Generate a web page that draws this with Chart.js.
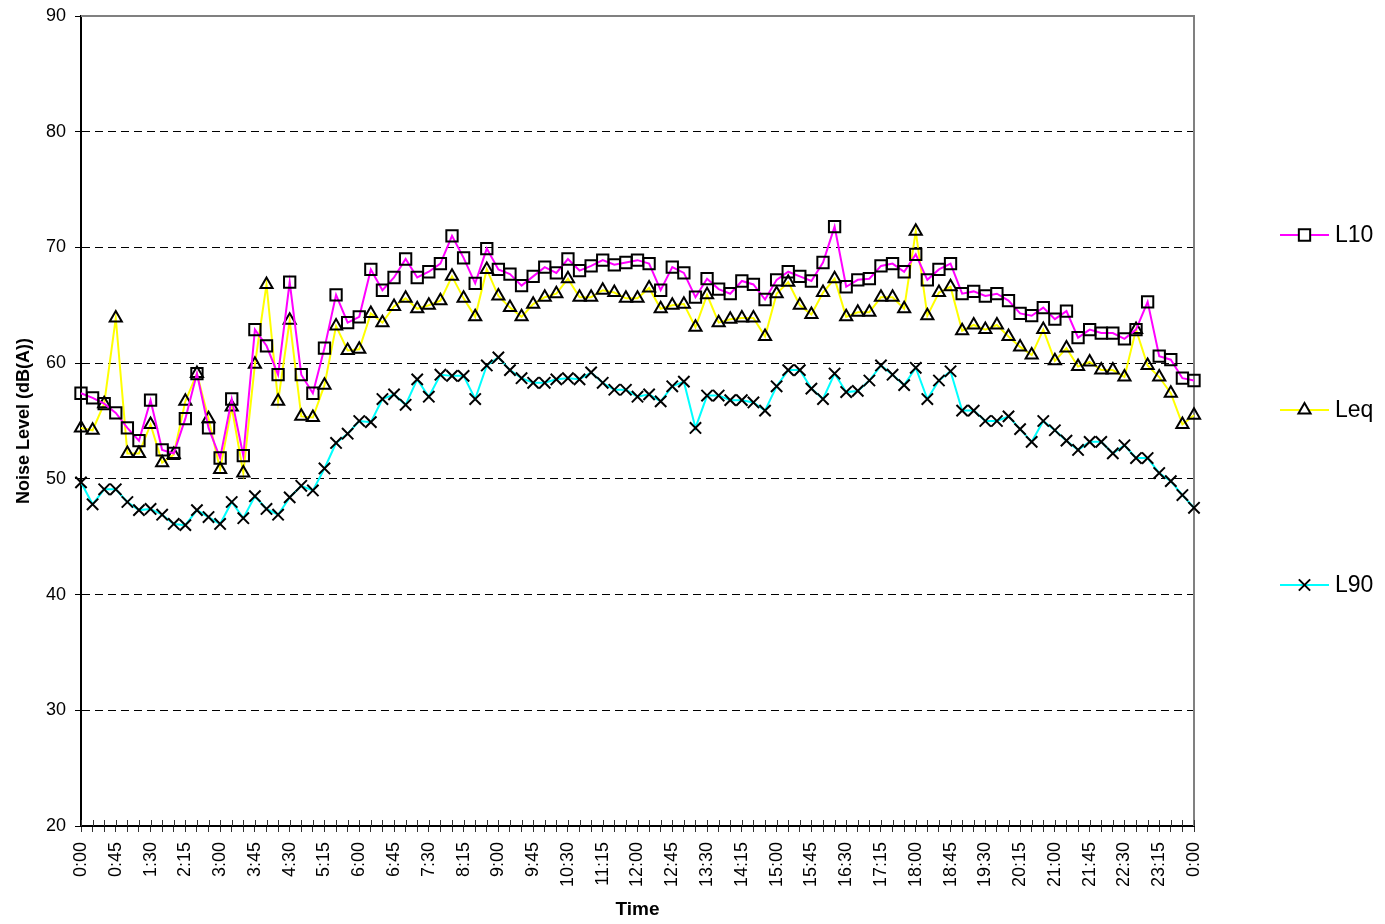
<!DOCTYPE html>
<html>
<head>
<meta charset="utf-8">
<title>Noise Level</title>
<script src="https://cdn.jsdelivr.net/npm/chart.js@4.4.1/dist/chart.umd.min.js"></script>
<style>
  html, body { margin: 0; padding: 0; background: #fff; }
  canvas { display: block; }
</style>
</head>
<body>
<canvas id="chart" width="1385" height="924"></canvas>
<script>
// 15-minute measurement intervals over one day
const times = [
  "0:00","0:15","0:30","0:45","1:00","1:15","1:30","1:45","2:00","2:15","2:30","2:45",
  "3:00","3:15","3:30","3:45","4:00","4:15","4:30","4:45","5:00","5:15","5:30","5:45",
  "6:00","6:15","6:30","6:45","7:00","7:15","7:30","7:45","8:00","8:15","8:30","8:45",
  "9:00","9:15","9:30","9:45","10:00","10:15","10:30","10:45","11:00","11:15","11:30","11:45",
  "12:00","12:15","12:30","12:45","13:00","13:15","13:30","13:45","14:00","14:15","14:30","14:45",
  "15:00","15:15","15:30","15:45","16:00","16:15","16:30","16:45","17:00","17:15","17:30","17:45",
  "18:00","18:15","18:30","18:45","19:00","19:15","19:30","19:45","20:00","20:15","20:30","20:45",
  "21:00","21:15","21:30","21:45","22:00","22:15","22:30","22:45","23:00","23:15","23:30","23:45",
  "0:00"
];

// Noise levels, dB(A)
const l10 = [
  57.4, 57.0, 56.5, 55.7, 54.4, 53.3, 56.8, 52.5, 52.2, 55.2, 59.1, 54.4,
  51.8, 56.9, 52.0, 62.9, 61.5, 59.0, 67.0, 59.0, 57.4, 61.3, 65.9, 63.5,
  64.0, 68.1, 66.3, 67.4, 69.0, 67.4, 67.9, 68.6, 71.0, 69.1, 66.9, 69.9,
  68.1, 67.7, 66.7, 67.5, 68.3, 67.8, 69.0, 68.0, 68.4, 68.9, 68.5, 68.7,
  68.9, 68.6, 66.3, 68.3, 67.8, 65.7, 67.3, 66.4, 66.0, 67.1, 66.8, 65.5,
  67.2, 67.9, 67.5, 67.1, 68.7, 71.8, 66.6, 67.2, 67.3, 68.4, 68.6, 67.9,
  69.4, 67.2, 68.1, 68.6, 66.0, 66.2, 65.8, 66.0, 65.4, 64.3, 64.1, 64.8,
  63.8, 64.5, 62.2, 62.9, 62.6, 62.6, 62.1, 62.9, 65.3, 60.6, 60.3, 58.7,
  58.5
];
const leq = [
  54.4, 54.2, 56.5, 63.9, 52.2, 52.2, 54.7, 51.4, 52.1, 56.7, 59.1, 55.2,
  50.8, 56.2, 50.5, 59.9, 66.8, 56.7, 63.7, 55.4, 55.3, 58.1, 63.2, 61.1,
  61.2, 64.3, 63.5, 64.9, 65.6, 64.7, 65.0, 65.4, 67.5, 65.6, 64.0, 68.1,
  65.8, 64.8, 64.0, 65.1, 65.7, 66.0, 67.3, 65.7, 65.7, 66.3, 66.1, 65.6,
  65.6, 66.5, 64.7, 65.0, 65.1, 63.1, 65.9, 63.5, 63.8, 63.9, 63.9, 62.3,
  66.0, 67.0, 65.0, 64.2, 66.1, 67.3, 64.0, 64.4, 64.4, 65.7, 65.7, 64.7,
  71.4, 64.1, 66.1, 66.6, 62.8, 63.3, 62.9, 63.3, 62.3, 61.4, 60.7, 62.9,
  60.2, 61.3, 59.7, 60.1, 59.4, 59.4, 58.8, 62.9, 59.8, 58.8, 57.4, 54.7,
  55.5
];
const l90 = [
  49.7, 47.8, 49.1, 49.1, 48.0, 47.3, 47.4, 46.9, 46.1, 46.0, 47.3, 46.7,
  46.1, 48.0, 46.6, 48.5, 47.4, 46.9, 48.4, 49.4, 49.0, 50.9, 53.1, 53.9,
  55.0, 54.9, 56.9, 57.3, 56.4, 58.6, 57.1, 59.0, 58.9, 58.9, 56.9, 59.8,
  60.5, 59.4, 58.7, 58.3, 58.3, 58.6, 58.7, 58.6, 59.2, 58.3, 57.7, 57.7,
  57.1, 57.3, 56.7, 58.0, 58.4, 54.4, 57.2, 57.2, 56.8, 56.8, 56.6, 55.9,
  58.0, 59.4, 59.4, 57.8, 56.9, 59.1, 57.5, 57.6, 58.5, 59.8, 59.0, 58.1,
  59.6, 56.9, 58.5, 59.3, 55.9, 55.9, 55.0, 55.0, 55.4, 54.3, 53.2, 55.0,
  54.2, 53.3, 52.5, 53.2, 53.2, 52.2, 52.9, 51.8, 51.8, 50.5, 49.8, 48.6,
  47.5
];

// Axis settings
const yMin = 20, yMax = 90, yStep = 10;
const labelEvery = 3;   // one time label every 45 minutes

const FONT = "'Liberation Sans', Arial, sans-serif";
Chart.defaults.font.family = FONT;
Chart.defaults.color = '#000';

// Grey frame on the top and right edges of the plot area
const plotFrame = {
  id: 'plotFrame',
  beforeDatasetsDraw(chart) {
    const { ctx, chartArea: a } = chart;
    ctx.save();
    ctx.strokeStyle = '#808080';
    ctx.lineWidth = 2;
    ctx.beginPath();
    ctx.moveTo(a.left, a.top);
    ctx.lineTo(a.right, a.top);
    ctx.lineTo(a.right, a.bottom);
    ctx.stroke();
    ctx.restore();
  }
};

// Tick marks on the time axis cross the axis line: add the inner half
const crossTicks = {
  id: 'crossTicks',
  beforeDatasetsDraw(chart) {
    const { ctx, chartArea: a } = chart;
    const xs = chart.scales.x;
    ctx.save();
    ctx.strokeStyle = '#333';
    ctx.lineWidth = 1;
    ctx.beginPath();
    xs.ticks.forEach((t, i) => {
      const x = Math.round(xs.getPixelForTick(i)) + 0.5;
      ctx.moveTo(x, a.bottom - 6);
      ctx.lineTo(x, a.bottom);
    });
    ctx.stroke();
    ctx.restore();
  }
};

// Legend on the right: line sample with marker, series name beside it
const sideLegend = {
  id: 'sideLegend',
  afterDraw(chart) {
    const { ctx } = chart;
    const top = 235, gap = 175;
    const x0 = 1280, x1 = 1329, mx = 1304.5, tx = 1335;
    ctx.save();
    chart.data.datasets.forEach((ds, i) => {
      const y = top + i * gap;
      ctx.strokeStyle = ds.borderColor;
      ctx.lineWidth = 2;
      ctx.beginPath();
      ctx.moveTo(x0, y);
      ctx.lineTo(x1, y);
      ctx.stroke();
      ctx.fillStyle = '#fff';
      ctx.strokeStyle = '#000';
      ctx.lineWidth = 2;
      Chart.helpers.drawPoint(ctx, {
        pointStyle: ds.pointStyle,
        radius: ds.pointRadius,
        borderWidth: 2,
        rotation: 0
      }, mx, y);
      ctx.fillStyle = '#000';
      ctx.font = '23px ' + FONT;
      ctx.textAlign = 'left';
      ctx.textBaseline = 'middle';
      ctx.fillText(ds.label, tx, y + 1);
    });
    ctx.restore();
  }
};

const seriesStyle = (color, style, radius) => ({
  borderColor: color,
  borderWidth: 2,
  pointStyle: style,
  pointRadius: radius,
  pointHoverRadius: radius,
  pointBorderColor: '#000',
  pointBackgroundColor: 'rgba(0,0,0,0)',
  pointBorderWidth: 2,
  tension: 0,
  fill: false
});

new Chart(document.getElementById('chart'), {
  type: 'line',
  data: {
    labels: times,
    datasets: [
      Object.assign({ label: 'L10', data: l10 }, seriesStyle('#FF00FF', 'rect', 8)),
      Object.assign({ label: 'Leq', data: leq }, seriesStyle('#FFFF00', 'triangle', 7)),
      Object.assign({ label: 'L90', data: l90 }, seriesStyle('#00FFFF', 'crossRot', 8))
    ]
  },
  options: {
    responsive: false,
    animation: false,
    devicePixelRatio: 1,
    layout: { padding: { top: 16, right: 191, bottom: 0, left: 0 } },
    plugins: {
      legend: { display: false },
      tooltip: { enabled: false }
    },
    scales: {
      x: {
        type: 'category',
        offset: false,
        afterFit: s => { s.height = 98; s.paddingLeft = 0; s.paddingRight = 0; },
        grid: {
          drawOnChartArea: false,
          offset: false,
          tickLength: 6,
          tickColor: '#333',
          tickWidth: 1
        },
        border: { display: true, color: '#000', width: 2 },
        ticks: {
          autoSkip: false,
          maxRotation: 90,
          minRotation: 90,
          padding: 10,
          font: { size: 18 },
          callback: (v, i) => (i % labelEvery === 0 ? times[i] : '')
        },
        title: {
          display: true,
          text: 'Time',
          font: { size: 19, weight: 'bold' },
          padding: { top: 0, bottom: 3 }
        }
      },
      y: {
        min: yMin,
        max: yMax,
        afterFit: s => { s.width = 81; s.paddingTop = 0; s.paddingBottom = 0; },
        grid: {
          color: c => (c.tick && (c.tick.value === yMax || c.tick.value === yMin) ? 'rgba(0,0,0,0)' : '#000'),
          lineWidth: 1,
          tickLength: 6,
          tickColor: '#000',
          tickWidth: 1
        },
        border: { display: true, color: '#000', width: 2, dash: [8, 5] },
        ticks: {
          stepSize: yStep,
          padding: 9,
          font: { size: 18 }
        },
        title: {
          display: true,
          text: 'Noise Level (dB(A))',
          font: { size: 18, weight: 'bold' },
          padding: { top: 13, bottom: 0 }
        }
      }
    }
  },
  plugins: [plotFrame, crossTicks, sideLegend]
});
</script>
</body>
</html>
